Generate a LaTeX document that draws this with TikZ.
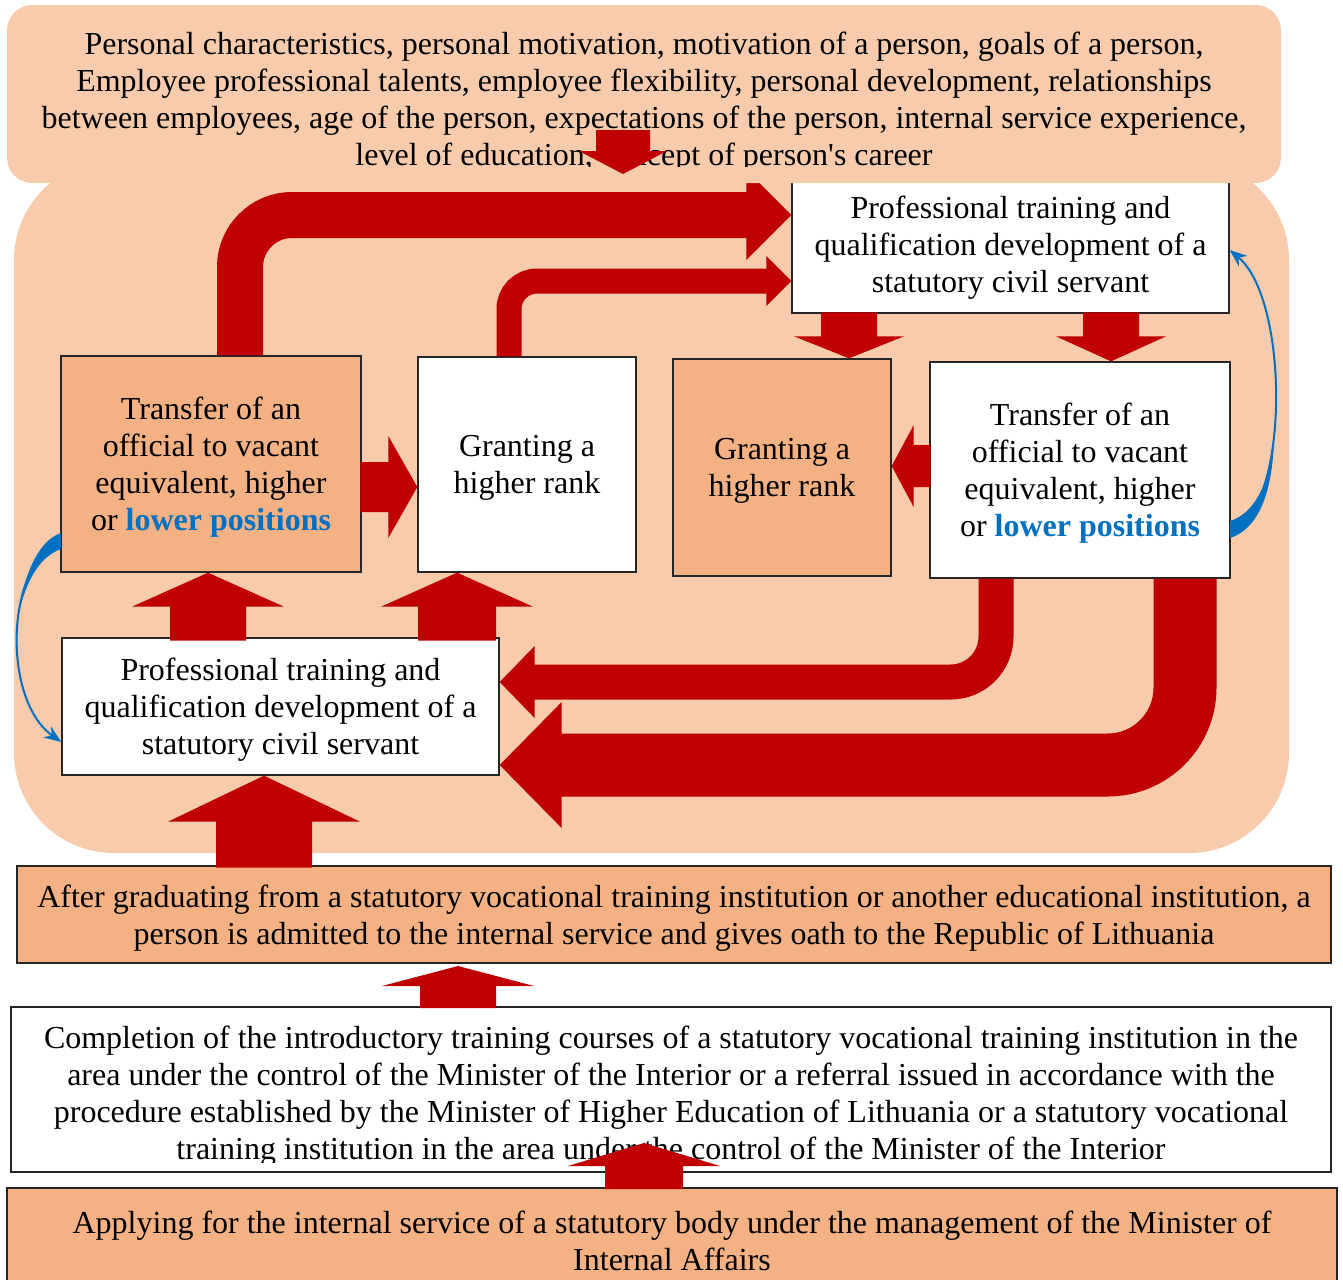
\documentclass[tikz,border=0pt]{standalone}
\usepackage{fontspec}
\setmainfont{Liberation Serif}
\usetikzlibrary{arrows.meta,fit}
\definecolor{peach}{HTML}{F8CBAD}
\definecolor{orangebox}{HTML}{F4B183}
\definecolor{arrowred}{HTML}{C00000}
\definecolor{blueacc}{HTML}{0070C0}
\newcommand\lowpos{\textcolor{blueacc}{\textbf{lower positions}}}
% #1 tip, #2 rotation, #3 total length, #4 head length, #5 shaft half width, #6 head half width
\newcommand\blockarrow[6]{%
  \begin{scope}[shift={(#1)},rotate=#2]
    \fill[arrowred] (0,0) -- (-#4,#6) -- (-#4,#5) -- (-#3,#5) -- (-#3,-#5) -- (-#4,-#5) -- (-#4,-#6) -- cycle;
  \end{scope}}
\begin{document}
\begin{tikzpicture}[x=0.75pt,y=-0.75pt,
  every node/.style={font=\fontsize{24}{27.75}\selectfont},
  box/.style={draw=black!85, line width=1pt, inner sep=0pt},
  txt/.style={align=center, inner sep=0pt, yshift=-2.5pt},
  bent/.style={draw=arrowred},
  bluearc/.style={draw=blueacc, line width=1.5pt, -{Stealth[length=13pt,width=10pt]}}]
\useasboundingbox (0,0) rectangle (1343,1279);
% background
\fill[peach, rounded corners=75pt] (14,160) rectangle (1289,853);

% boxes
\node[box, fill=white, fit={(792,176) (1229,313)}] (pt1) {};
\node[txt] (pt1t) at (pt1.center) {Professional training and\\qualification development of a\\statutory civil servant};
\node[box, fill=orangebox, fit={(61,356) (361,572)}] (tl) {};
\node[txt] (tlt) at (tl.center) {Transfer of an\\official to vacant\\equivalent, higher\\or \lowpos};
\node[box, fill=white, fit={(418,357) (636,572)}] (gw) {};
\node[txt] (gwt) at (gw.center) {Granting a\\higher rank};
\node[box, fill=orangebox, fit={(673,359) (891,576)}] (go) {};
\node[txt] (got) at (go.center) {Granting a\\higher rank};
\node[box, fill=white, fit={(930,362) (1230,578)}] (tr) {};
\node[txt] (trt) at (tr.center) {Transfer of an\\official to vacant\\equivalent, higher\\or \lowpos};
\node[box, fill=white, fit={(62,638) (499,775)}] (pt2) {};
\node[txt] (pt2t) at (pt2.center) {Professional training and\\qualification development of a\\statutory civil servant};
\node[box, fill=orangebox, fit={(17,866) (1331,963)}] (grad) {};
\node[txt] (gradt) at (grad.center) {After graduating from a statutory vocational training institution or another educational institution, a\\person is admitted to the internal service and gives oath to the Republic of Lithuania};
\node[box, fill=white, fit={(11,1007) (1331,1172)}] (compl) {};
\begin{scope}
  \clip (11,1007) rectangle (1331,1162);
  \node[txt] (compltext) at (671,1093) {Completion of the introductory training courses of a statutory vocational training institution in the\\area under the control of the Minister of the Interior or a referral issued in accordance with the\\procedure established by the Minister of Higher Education of Lithuania or a statutory vocational\\training institution in the area under the control of the Minister of the Interior};
\end{scope}
\node[box, fill=orangebox, fit={(7,1188) (1337,1287)}] (apply) {};
\node[txt] (applyt) at (apply.center) {Applying for the internal service of a statutory body under the management of the Minister of\\Internal Affairs};

% bent red arrows
\draw[bent, line width=34.5pt, rounded corners=39pt] (240,0 |- tl.north) |- (752,215);
\blockarrow{pt1.west |- 0,215}{0}{45}{45}{23}{45}
\draw[bent, line width=18.75pt, rounded corners=21pt] (509,0 |- gw.north) |- (770,281);
\blockarrow{pt1.west |- 0,281}{0}{25}{25}{12}{25}
\draw[bent, line width=26.25pt, rounded corners=34pt] (996,0 |- tr.south) |- (532,682);
\blockarrow{pt2.east |- 0,682}{180}{35}{35}{17}{36}
\draw[bent, line width=47.25pt, rounded corners=58pt] (1185,0 |- tr.south) |- (559,765);
\blockarrow{pt2.east |- 0,765}{180}{62}{62}{31}{63}

% straight block arrows
\blockarrow{208,0 |- tl.south}{90}{68}{34}{38}{76}
\blockarrow{457,0 |- gw.south}{90}{68}{34}{39}{76}
\blockarrow{264,0 |- pt2.south}{90}{92}{46}{48}{96}
\blockarrow{458,966}{90}{42}{20}{38}{76}
\blockarrow{644,1143}{90}{46}{23}{39}{76}
\blockarrow{849,0 |- go.north}{-90}{46}{22}{28}{55}
\blockarrow{1111,0 |- tr.north}{-90}{49}{25}{28}{55}
\blockarrow{gw.west |- 0,487}{0}{57}{29}{25}{51}
\blockarrow{go.east |- 0,466}{180}{39}{22}{21}{41}

% top box
\node[fill=peach, rounded corners=19pt, inner sep=0pt, fit={(7,5) (1281,183)}] (top) {};
\begin{scope}
  \clip (7,5) rectangle (1281,166);
  \node[txt] (toptext) at (644,99) {Personal characteristics, personal motivation, motivation of a person, goals of a person,\\Employee professional talents, employee flexibility, personal development, relationships\\between employees, age of the person, expectations of the person, internal service experience,\\level of education, concept of person\textquotesingle s career};
\end{scope}
\blockarrow{623,174}{-90}{44}{23}{27}{44}

% blue curved arrows
\fill[blueacc] (61,533) .. controls (40,540) and (25,570) .. (19,612) .. controls (28,575) and (42,556) .. (61,549) -- cycle;
\draw[bluearc] (tl.west |- 0,540) .. controls (5,565) and (2,700) .. (pt2.west |- 0,742);
\fill[blueacc] (1230,538) .. controls (1255,530) and (1272,500) .. (1274,440) .. controls (1268,490) and (1252,514) .. (1230,521) -- cycle;
\draw[bluearc] (tr.east |- 0,533) .. controls (1290,510) and (1290,300) .. (pt1.east |- 0,250);
\end{tikzpicture}
\end{document}
